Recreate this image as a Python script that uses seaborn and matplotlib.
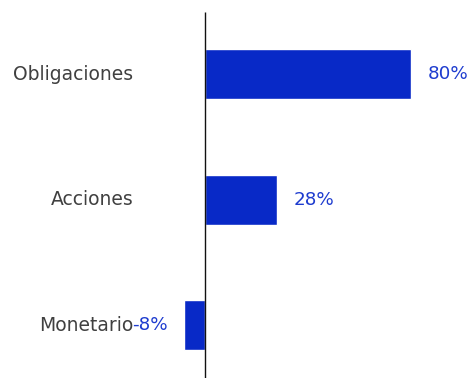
import matplotlib
matplotlib.use("Agg")
import matplotlib.pyplot as plt
import seaborn as sns
import pandas as pd

categories = ["Obligaciones", "Acciones", "Monetario"]
values = [80, 28, -8]
value_labels = ["80%", "28%", "-8%"]

sns.set_style("white")
plt.rcParams["font.family"] = ["DejaVu Sans"]

bar_color = "#0829C7"
label_color = "#1E3CCF"
text_color = "#404040"

df = pd.DataFrame({"categoria": categories, "valor": values})

fig = plt.figure(figsize=(4.69, 3.78), dpi=100)
ax = fig.add_axes([0, 0, 1, 1])
sns.barplot(data=df, x="valor", y="categoria", orient="h", color=bar_color,
            width=0.4, saturation=1, ax=ax)

ax.set_xlim(-79.6, 102.5)
ax.set_ylim(2.42, -0.59)
ax.vlines(0, -0.494, 2.42, color="#111111", linewidth=1.0, zorder=3)

for s in ax.spines.values():
    s.set_visible(False)
ax.set_xticks([])
ax.set_xlabel("")
ax.set_ylabel("")
ax.set_yticks(range(len(categories)))
ax.set_yticklabels([])

for i, (cat, v, lab) in enumerate(zip(categories, values, value_labels)):
    ax.annotate(cat, xy=(0, i), xytext=(-51.5, 0), textcoords="offset points",
                ha="right", va="center", fontsize=13.5, color=text_color)
    sign = 1 if v >= 0 else -1
    ax.annotate(lab, xy=(v, i), xytext=(sign * 11.8, 0), textcoords="offset points",
                ha="left" if v >= 0 else "right", va="center", fontsize=13.2,
                color=label_color)

fig.savefig("out.png", dpi=100)
